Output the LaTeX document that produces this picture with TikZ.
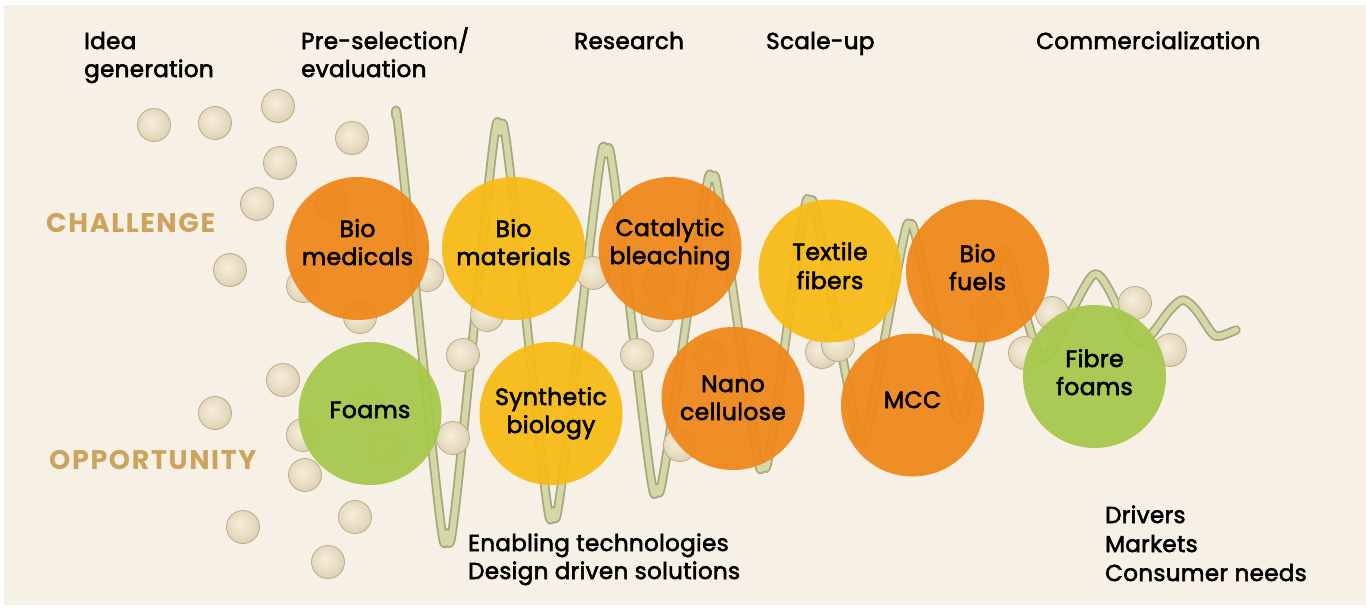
\documentclass[tikz,border=0pt]{standalone}
\usepackage{fontspec}
\newfontfamily\labfont{Poppins}[FakeBold=2.5, LetterSpace=1.5]
\newfontfamily\headfont{Poppins}[LetterSpace=6]
\definecolor{paper}{RGB}{246,240,230}
\definecolor{discorange}{RGB}{239,135,24}
\definecolor{discyellow}{RGB}{248,187,22}
\definecolor{discgreen}{RGB}{166,200,74}
\definecolor{gold}{RGB}{205,164,92}
\definecolor{tubeedge}{RGB}{168,166,124}
\definecolor{tubecore}{RGB}{212,215,166}
\definecolor{beadhi}{RGB}{246,238,220}
\definecolor{beadmid}{RGB}{232,221,196}
\definecolor{beadlo}{RGB}{203,190,156}
\definecolor{beadedge}{RGB}{188,173,138}
\pgfdeclareradialshading{beadshade}{\pgfpoint{-5bp}{5bp}}{color(0bp)=(beadhi); color(18bp)=(beadmid); color(40bp)=(beadlo); color(50bp)=(beadlo)}
\begin{document}
\begin{tikzpicture}[x=1pt,y=-1pt,
  disc/.style={circle, minimum size=143pt, inner sep=0pt, draw=none, fill=#1, fill opacity=0.93},
  lab/.style={font=\labfont\fontsize{23.5}{28}\selectfont, text=black, inner sep=0pt, anchor=base},
  head/.style={font=\labfont\fontsize{23}{28}\selectfont, text=black, inner sep=0pt, anchor=base west},
  axislab/.style={font=\headfont\bfseries\fontsize{27}{30}\selectfont, text=gold, inner sep=0pt, anchor=base west},
  beadstyle/.style={shading=beadshade, draw=beadedge, line width=0.8pt}]
\useasboundingbox (0,0) rectangle (1366,608);
\fill[white] (0,0) rectangle (1366,608);
\fill[paper] (4,5) rectangle (1366,605);

% a bead tucked behind the fibre
\shade[beadstyle] (427,275) circle (16.5);

% the fibre, a wave that narrows and flattens towards the right
\foreach \w/\c in {9.5/tubeedge, 6/tubecore}
  \draw[line width=\w pt, draw=\c, line cap=round, line join=round]
    plot[smooth, tension=0.55] coordinates {
      (396,116) (401,150)
      (439,510) (447,533) (455,510)
      (492,155) (500,132) (508,155)
      (545,488) (553,511) (561,488)
      (598,177) (606,154) (614,177)
      (649,465) (657,488) (665,465)
      (704,202) (712,179) (720,202)
      (755,443) (763,466) (771,443)
      (802,224) (810,201) (818,224)
      (854,418) (862,441) (870,418)
      (902,246) (910,224) (918,246)
      (952,397) (960,418) (968,397)
      (997,270) (1005,250) (1013,270)
      (1034,342) (1045,358) (1056,342)
      (1084,288) (1096,274) (1108,288)
      (1129,330) (1142,343) (1155,330)
      (1170,310) (1183,300) (1196,310)
      (1212,333) (1220,336) (1236,330)};

% loose beads
\foreach \bx/\by in {154/125, 215/123, 278/106, 352/138, 280/163, 257/204, 230/270,
    332/205, 303/286, 360/317, 487/315, 463/355, 283/380, 215/413, 303/435, 370/407,
    385/448, 453/438, 305/475, 243/527, 355/517, 328/562, 593/273, 637/355, 658/315,
    660/282, 680/445, 710/357, 822/352, 838/345, 987/312, 1025/353, 1052/313,
    1135/303, 1170/350}
  \shade[beadstyle] (\bx,\by) circle (16.5);

% application discs
\node[disc=discorange] (biomed) at (357.5,248.5) {};
\node[disc=discyellow] (biomat) at (513.5,248.5) {};
\node[disc=discorange] (catal)  at (670,248.5) {};
\node[disc=discyellow] (textile) at (830,271) {};
\node[disc=discorange] (biofuel) at (977.5,271) {};
\node[disc=discgreen]  (foams)  at (370,413.5) {};
\node[disc=discyellow] (synbio) at (551,413.5) {};
\node[disc=discorange] (nano)   at (733,398.5) {};
\node[disc=discorange] (mcc)    at (912.5,405) {};
\node[disc=discgreen]  (fibre)  at (1094.5,376.5) {};

% disc labels, one node per line
\node[lab] (biomedA) at (357.5,237) {Bio};
\node[lab] (biomedB) at (357.5,265) {medicals};
\node[lab] (biomatA) at (513.5,237) {Bio};
\node[lab] (biomatB) at (513.5,265) {materials};
\node[lab] (catalA) at (670,236) {Catalytic};
\node[lab] (catalB) at (670,264) {bleaching};
\node[lab] (textileA) at (830,260) {Textile};
\node[lab] (textileB) at (830,289) {fibers};
\node[lab] (biofuelA) at (977.5,262) {Bio};
\node[lab] (biofuelB) at (977.5,290) {fuels};
\node[lab] (foamsA) at (370,418) {Foams};
\node[lab] (synbioA) at (551,405) {Synthetic};
\node[lab] (synbioB) at (551,433) {biology};
\node[lab] (nanoA) at (733,392) {Nano};
\node[lab] (nanoB) at (733,420) {cellulose};
\node[lab] (mccA) at (912.5,408) {MCC};
\node[lab] (fibreA) at (1094.5,367) {Fibre};
\node[lab] (fibreB) at (1094.5,395) {foams};

% stage headings
\node[head] (idea1) at (84,49) {Idea};
\node[head] (idea2) at (84,77) {generation};
\node[head] (pre1) at (301,49) {Pre-selection/};
\node[head] (pre2) at (301,77) {evaluation};
\node[head] (research) at (574,49) {Research};
\node[head] (scale) at (766,49) {Scale-up};
\node[head] (commerce) at (1036,49) {Commercialization};

% side labels
\node[axislab] (challenge) at (46,232) {CHALLENGE};
\node[axislab] (opportunity) at (49,469) {OPPORTUNITY};

% footnotes
\node[head] (enab1) at (468,551) {Enabling technologies};
\node[head] (enab2) at (468,579) {Design driven solutions};
\node[head] (drv1) at (1105,523) {Drivers};
\node[head] (drv2) at (1105,552) {Markets};
\node[head] (drv3) at (1105,581) {Consumer needs};
\end{tikzpicture}
\end{document}
